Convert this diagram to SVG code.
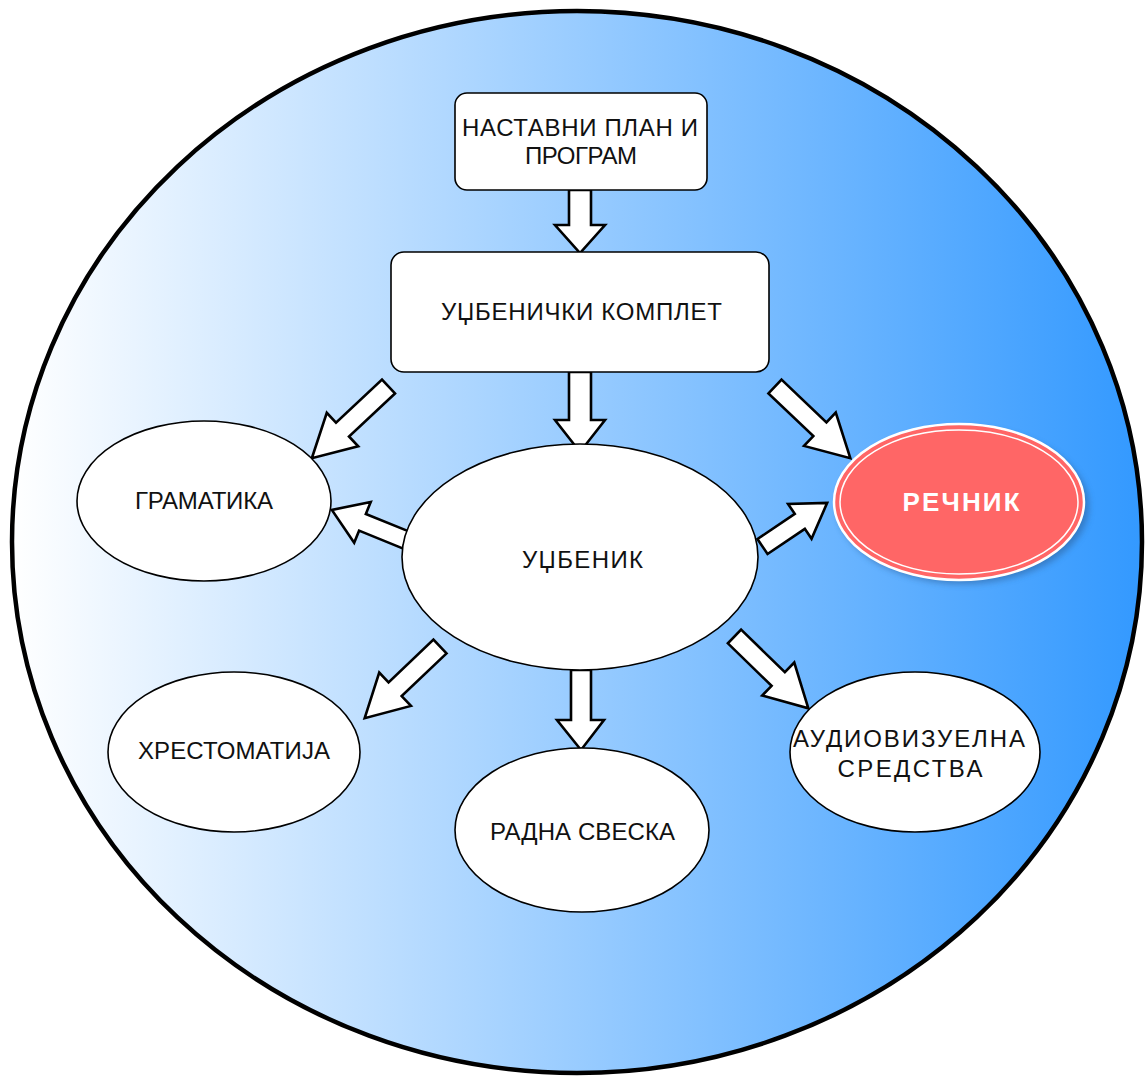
<svg xmlns="http://www.w3.org/2000/svg" width="1145" height="1078" viewBox="0 0 1145 1078">
  <defs>
    <linearGradient id="bg" x1="0" y1="0" x2="1" y2="0">
      <stop offset="0" stop-color="#ffffff"/>
      <stop offset="1" stop-color="#3399ff"/>
    </linearGradient>
    <filter id="blur" x="-20%" y="-20%" width="140%" height="140%">
      <feGaussianBlur stdDeviation="3"/>
    </filter>
  </defs>
  <style>
    .node { fill: #ffffff; stroke: #000000; stroke-width: 1.6; }
    .arrow { fill: #ffffff; stroke: #000000; stroke-width: 2.6; stroke-linejoin: miter; }
    .lbl { font-family: "Liberation Sans", Arial, sans-serif; font-size: 24px; fill: #111111; text-anchor: middle; }
    .lblw { font-family: "Liberation Sans", Arial, sans-serif; font-size: 26px; font-weight: bold; fill: #ffffff; text-anchor: middle; }
  </style>
  <rect x="0" y="0" width="1145" height="1078" fill="#ffffff"/>
  <g id="background">
    <ellipse cx="577" cy="542" rx="565" ry="531" fill="url(#bg)" stroke="#000000" stroke-width="4.5"/>
  </g>

  <g id="connectors">
    <polygon class="arrow" points="569,190 591,190 591,225 605,225 580,253 555,225 569,225"/>
    <polygon class="arrow" points="569,372 591,372 591,420 605,420 580,452 555,420 569,420"/>
    <polygon class="arrow" points="571,670 591,670 591,720 604,720 581,750 557,720 571,720"/>
    <polygon class="arrow" transform="translate(388.5,386.5) rotate(136.9)" points="0,-9.5 63,-9.5 63,-23 105,0 63,23 63,9.5 0,9.5"/>
    <polygon class="arrow" transform="translate(406,540) rotate(202.1)" points="0,-9 47,-9 47,-22 80,0 47,22 47,9 0,9"/>
    <polygon class="arrow" transform="translate(775,386.5) rotate(43.6)" points="0,-9.5 62,-9.5 62,-23 104,0 62,23 62,9.5 0,9.5"/>
    <polygon class="arrow" transform="translate(762.5,546.5) rotate(-34)" points="0,-9 45,-9 45,-21 78,0 45,21 45,9 0,9"/>
    <polygon class="arrow" transform="translate(440,646.5) rotate(136.4)" points="0,-9.5 62,-9.5 62,-23 104,0 62,23 62,9.5 0,9.5"/>
    <polygon class="arrow" transform="translate(734.5,636.5) rotate(44.2)" points="0,-9.5 61,-9.5 61,-23 103,0 61,23 61,9.5 0,9.5"/>
  </g>

  <g id="node-plan">
    <rect class="node" x="455" y="93" width="252" height="97" rx="12"/>
    <text class="lbl" x="580" y="136" textLength="236" lengthAdjust="spacing">НАСТАВНИ ПЛАН И</text>
    <text class="lbl" x="581" y="164" textLength="112" lengthAdjust="spacing">ПРОГРАМ</text>
  </g>
  <g id="node-komplet">
    <rect class="node" x="391" y="252" width="378" height="120" rx="13"/>
    <text class="lbl" x="581.5" y="320" textLength="281" lengthAdjust="spacing">УЏБЕНИЧКИ КОМПЛЕТ</text>
  </g>
  <g id="node-udzbenik">
    <ellipse class="node" cx="580" cy="557" rx="178" ry="113"/>
    <text class="lbl" x="582.5" y="568" textLength="121" lengthAdjust="spacing">УЏБЕНИК</text>
  </g>
  <g id="node-gramatika">
    <ellipse class="node" cx="204" cy="501" rx="127" ry="80"/>
    <text class="lbl" x="204" y="509" textLength="138" lengthAdjust="spacing">ГРАМАТИКА</text>
  </g>
  <g id="node-recnik">
    <ellipse cx="963" cy="506" rx="126" ry="78" fill="#2a5f99" opacity="0.55" filter="url(#blur)"/>
    <ellipse cx="959" cy="502" rx="125" ry="78" fill="#ff6666" stroke="#ffffff" stroke-width="2.5"/>
    <ellipse cx="959" cy="502" rx="119" ry="72" fill="none" stroke="#ffffff" stroke-width="1.5"/>
    <text class="lblw" x="961" y="511" textLength="117" lengthAdjust="spacing">РЕЧНИК</text>
  </g>
  <g id="node-hrestomatija">
    <ellipse class="node" cx="234" cy="752" rx="126" ry="80"/>
    <text class="lbl" x="234" y="759" textLength="192" lengthAdjust="spacing">ХРЕСТОМАТИЈА</text>
  </g>
  <g id="node-radna">
    <ellipse class="node" cx="582" cy="830" rx="127" ry="82"/>
    <text class="lbl" x="582.5" y="840" textLength="185" lengthAdjust="spacing">РАДНА СВЕСКА</text>
  </g>
  <g id="node-audio">
    <ellipse class="node" cx="915" cy="752" rx="125" ry="80"/>
    <text class="lbl" x="909" y="747" textLength="232" lengthAdjust="spacing">АУДИОВИЗУЕЛНА</text>
    <text class="lbl" x="910" y="777" textLength="145" lengthAdjust="spacing">СРЕДСТВА</text>
  </g>
</svg>
